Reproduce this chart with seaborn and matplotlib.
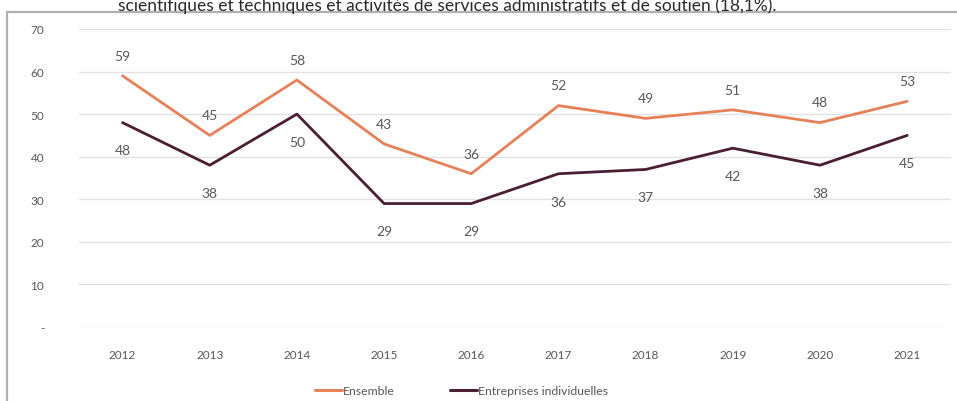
import matplotlib
matplotlib.use("Agg")
import matplotlib.pyplot as plt
from matplotlib.lines import Line2D
import pandas as pd
import seaborn as sns

years = ["2012", "2013", "2014", "2015", "2016", "2017", "2018", "2019", "2020", "2021"]
ensemble = [59, 45, 58, 43, 36, 52, 49, 51, 48, 53]
entreprises_indiv = [48, 38, 50, 29, 29, 36, 37, 42, 38, 45]
series_names = ["Ensemble", "Entreprises individuelles"]
y_ticks = [0, 10, 20, 30, 40, 50, 60, 70]
y_tick_labels = ["-", "10", "20", "30", "40", "50", "60", "70"]
caption = ("scientifiques et techniques et activités de services administratifs "
           "et de soutien (18,1%).")

colors = {"Ensemble": "#E6815A", "Entreprises individuelles": "#4A1E33"}
text_gray = "#585858"

df = pd.concat([
    pd.DataFrame({"annee": years, "valeur": ensemble, "serie": series_names[0]}),
    pd.DataFrame({"annee": years, "valeur": entreprises_indiv, "serie": series_names[1]}),
], ignore_index=True)

sns.set_theme(style="white")
plt.rcParams["font.family"] = ["Lato", "DejaVu Sans"]

fig = plt.figure(figsize=(9.57, 4.02), dpi=100)
ax = fig.add_axes([0.0825, 0.184, 0.911, 0.7415])

sns.lineplot(data=df, x="annee", y="valeur", hue="serie", palette=colors,
             linewidth=2.0, ax=ax, legend=False, sort=False)

# value labels: above the orange line, below the dark line
for i, (a, b) in enumerate(zip(ensemble, entreprises_indiv)):
    ax.annotate(str(a), (i, a), xytext=(0, 14.5), textcoords="offset points",
                ha="center", va="center", fontsize=10, color=text_gray)
    ax.annotate(str(b), (i, b), xytext=(0, -20), textcoords="offset points",
                ha="center", va="center", fontsize=10, color=text_gray)

ax.set_xlim(-0.5, len(years) - 0.5)
ax.set_ylim(0, 70)
ax.set_yticks(y_ticks)
ax.set_yticklabels(y_tick_labels)
ax.grid(axis="y", color="#e2e2e2", linewidth=1.0)
ax.grid(axis="x", visible=False)
for s in ax.spines.values():
    s.set_visible(False)
ax.tick_params(axis="y", length=0, pad=25, labelsize=8.5, labelcolor=text_gray)
ax.tick_params(axis="x", length=0, pad=16, labelsize=8.5, labelcolor=text_gray)
ax.set_xlabel("")
ax.set_ylabel("")

handles = [Line2D([0], [0], color=colors[n], lw=2.2) for n in series_names]
fig.legend(handles, series_names, loc="center", bbox_to_anchor=(0.482, 1 - 392 / 402),
           ncol=2, frameon=False, fontsize=8.8, labelcolor=text_gray,
           handlelength=2.2, handletextpad=0.1, columnspacing=4.5)

# frame around the chart block
fig.add_artist(Line2D([7.5 / 957, 7.5 / 957], [0, 1 - 13 / 402], color="#b0b0b0",
                      lw=1.6, transform=fig.transFigure))
fig.add_artist(Line2D([7.5 / 957, 1], [1 - 13 / 402, 1 - 13 / 402], color="#b0b0b0",
                      lw=1.6, transform=fig.transFigure))

fig.text(118 / 957, 1 - 10.5 / 402, caption, ha="left", va="baseline",
         fontsize=12.5, color="#2a2a2a")

fig.savefig("out.png", dpi=100)
